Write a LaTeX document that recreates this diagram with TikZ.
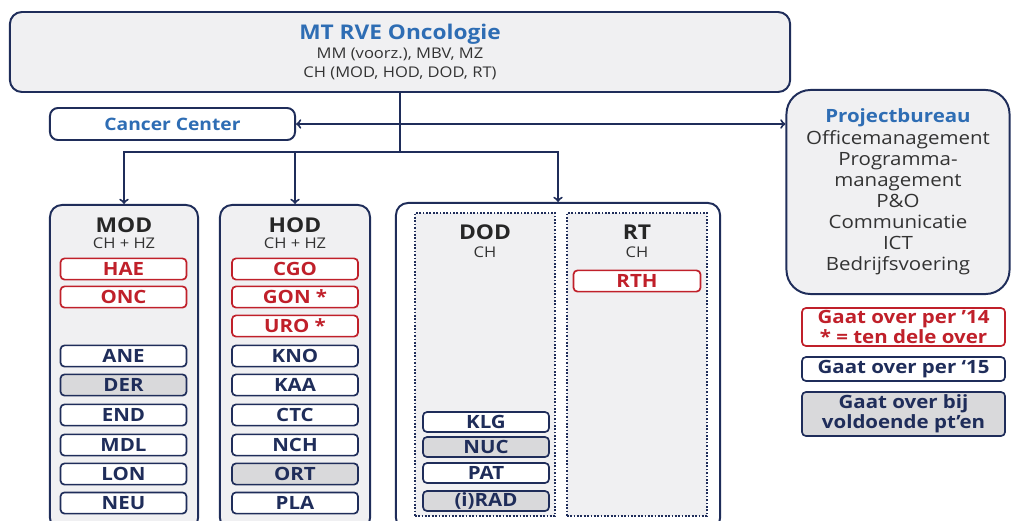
\documentclass[tikz,border=0pt]{standalone}
\usepackage{fontspec}
\setmainfont[FakeStretch=1.12]{Open Sans}
\usetikzlibrary{positioning}

\definecolor{navy}{HTML}{1F2D5A}
\definecolor{darkred}{HTML}{C0202A}
\definecolor{titleblue}{HTML}{2E6DB4}
\definecolor{panelgrey}{HTML}{F0F0F2}
\definecolor{itemgrey}{HTML}{D9D9DB}
\definecolor{txtgrey}{HTML}{333333}

\tikzset{
  panel/.style={draw=navy, line width=1.4pt, rounded corners=0.3cm, fill=panelgrey, inner sep=0pt},
  dotbox/.style={draw=navy, line width=1.2pt, dash pattern=on 1.2pt off 1.2pt, fill=panelgrey, inner sep=0pt},
  unit/.style={draw=navy, line width=1.2pt, rounded corners=0.1cm, fill=white,
    minimum width=3.15cm, minimum height=0.53cm, inner sep=0pt, text=navy,
    font=\bfseries\fontsize{13}{13}\selectfont},
  unitred/.style={unit, draw=darkred, text=darkred},
  unitgrey/.style={unit, fill=itemgrey},
  legend/.style={minimum width=5.075cm, align=center, font=\bfseries\fontsize{13}{14}\selectfont},
  head/.style={font=\bfseries\fontsize{14.5}{15}\selectfont, text=black!85},
  sub/.style={font=\fontsize{10.5}{11}\selectfont, text=txtgrey},
  link/.style={navy, line width=1.4pt},
}

\begin{document}
\begin{tikzpicture}[x=0.025cm, y=-0.025cm]
\useasboundingbox (0,0) rectangle (1011,520);
\clip (0,0) rectangle (1011,520);

% management team
\node[panel, minimum width=19.5cm, minimum height=2cm, align=center,
  font=\fontsize{10.5}{13.5}\selectfont, text=txtgrey] (mt) at (400,52)
  {{\bfseries\fontsize{14.4}{16}\selectfont\color{titleblue}MT RVE Oncologie}\\
   MM (voorz.), MBV, MZ\\ CH (MOD, HOD, DOD, RT)};

\node[panel, fill=white, rounded corners=0.2cm, minimum width=6.125cm, minimum height=0.8cm,
  text=titleblue, font=\bfseries\fontsize{12.2}{13}\selectfont] (cc) at (172.5,124) {Cancer Center};

\node[panel, rounded corners=0.6cm, minimum width=5.575cm, minimum height=5.1cm, align=center,
  text=txtgrey, font=\fontsize{13}{15}\selectfont] (pb) at (898,192)
  {{\bfseries\color{titleblue}Projectbureau}\\ Officemanagement\\ Programma-\\ management\\
   P\&O\\ Communicatie\\ ICT\\ Bedrijfsvoering};

% columns
\node[panel, minimum width=3.7cm, minimum height=8.125cm] (modpanel) at (124,367.5) {};
\node[panel, minimum width=3.75cm, minimum height=8.125cm] (hodpanel) at (295,367.5) {};
\node[panel, fill=white, minimum width=8.1cm, minimum height=8.175cm] (dodrt) at (558,366.5) {};
\node[dotbox, minimum width=3.5cm, minimum height=7.575cm] (dodpanel) at (485,364.5) {};
\node[dotbox, minimum width=3.5cm, minimum height=7.575cm] (rtpanel) at (637,364.5) {};

\node[head] (modhead) at (124,225) {MOD};
\node[sub] (modsub) at (124,243) {CH + HZ};
\node[head] (hodhead) at (295,225) {HOD};
\node[sub] (hodsub) at (295,243) {CH + HZ};
\node[head] (dodhead) at (485,232) {DOD};
\node[sub] (dodsub) at (485,252) {CH};
\node[head] (rthead) at (637,232) {RT};
\node[sub] (rtsub) at (637,252) {CH};

\foreach \id/\y/\st in {HAE/269/unitred, ONC/297/unitred, ANE/356/unit, DER/385/unitgrey,
    END/415/unit, MDL/445/unit, LON/474/unit, NEU/503/unit}
  \node[\st] (mod\id) at (123.5,\y) {\id};

\foreach \id/\lab/\y/\st in {cgo/CGO/269/unitred, gon/GON */297/unitred, uro/URO */326/unitred,
    kno/KNO/356/unit, kaa/KAA/385/unit, ctc/CTC/415/unit, nch/NCH/445/unit,
    ort/ORT/474/unitgrey, pla/PLA/503/unit}
  \node[\st] (hod\id) at (295,\y) {\lab};

\foreach \id/\lab/\y/\st in {klg/KLG/422/unit, nuc/NUC/447/unitgrey, pat/PAT/473/unit,
    rad/(i)RAD/501/unitgrey}
  \node[\st, minimum width=3.15cm, minimum height=0.5cm] (dod\id) at (486,\y) {\lab};

\node[unitred, minimum width=3.175cm] (rtrth) at (637,281) {RTH};

% legend
\node[unitred, legend, minimum height=0.95cm] (leg14) at (903.5,327)
  {Gaat over per ’14\\ * = ten dele over};
\node[unit, legend, minimum height=0.6cm] (leg15) at (903.5,369) {Gaat over per ‘15};
\node[unitgrey, legend, minimum height=1.1cm] (legpt) at (903.5,414)
  {Gaat over bij\\ voldoende pt’en};

% connectors
\coordinate (split) at (400,152);
\draw[link] (mt.south) -- (split);
\draw[link, <->] (cc.east) -- (cc.east -| pb.west);
\draw[link, ->] (split) -| (modpanel.north);
\draw[link, ->] (split) -| (hodpanel.north);
\draw[link, ->] (split) -| (dodrt.north);
\end{tikzpicture}
\end{document}
